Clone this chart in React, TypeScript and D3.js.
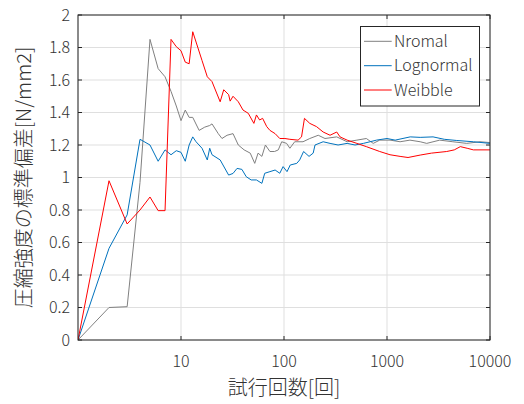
import React from "react";
import * as d3 from "d3";

// ---- data (running std. dev. vs. number of trials) ----
const nromalN = [1, 2, 3, 4, 5, 6, 7, 8, 9, 10, 11, 12, 13, 15, 17, 19, 20, 23, 25, 28, 32, 36, 41, 47, 52, 56, 61, 66, 73, 81, 88, 95, 106, 114, 127, 153, 178, 215, 250, 325, 410, 510, 630, 735, 850, 1070, 1340, 1670, 2100, 2430, 3250, 4360, 5940, 8000, 10000];
const nromalY = [0, 0.2, 0.205, 0.97, 1.85, 1.67, 1.62, 1.53, 1.44, 1.35, 1.415, 1.37, 1.37, 1.29, 1.31, 1.32, 1.33, 1.27, 1.24, 1.26, 1.27, 1.2, 1.17, 1.15, 1.087, 1.15, 1.13, 1.2, 1.16, 1.16, 1.17, 1.22, 1.21, 1.18, 1.22, 1.22, 1.24, 1.26, 1.24, 1.25, 1.22, 1.23, 1.24, 1.21, 1.23, 1.23, 1.22, 1.23, 1.22, 1.21, 1.23, 1.22, 1.21, 1.22, 1.215];

const lognormalN = [1, 2, 3, 4, 5, 6, 7, 8, 9, 10, 11, 12, 13, 14, 16, 18, 19, 20, 24, 29, 32, 35, 39, 43, 48, 54, 61, 65, 73, 82, 91, 98, 107, 115, 133, 142, 155, 175, 192, 200, 240, 280, 335, 410, 490, 590, 685, 790, 1000, 1200, 1680, 2100, 2800, 3600, 4700, 6900, 10000];
const lognormalY = [0, 0.564, 0.77, 1.235, 1.2, 1.1, 1.17, 1.14, 1.165, 1.155, 1.1, 1.2, 1.25, 1.22, 1.18, 1.108, 1.18, 1.14, 1.108, 1.015, 1.025, 1.056, 1.05, 1.005, 0.985, 0.985, 0.964, 1.026, 1.036, 1.046, 1.026, 1.067, 1.036, 1.077, 1.087, 1.108, 1.16, 1.13, 1.15, 1.2, 1.22, 1.21, 1.2, 1.21, 1.2, 1.21, 1.22, 1.23, 1.24, 1.23, 1.25, 1.247, 1.25, 1.235, 1.228, 1.22, 1.21];

const weibbleN = [1, 2, 3, 4, 5, 6, 7, 8, 9, 10, 11, 12, 13, 16, 18, 20, 24, 26, 29, 30, 32, 36, 40, 45, 51, 54, 58, 62, 68, 73, 82, 91, 102, 114, 137, 148, 158, 178, 207, 240, 280, 325, 350, 410, 510, 630, 850, 1070, 1340, 1600, 2100, 2700, 3800, 4500, 5150, 6000, 6900, 10000];
const weibbleY = [0, 0.98, 0.714, 0.8, 0.88, 0.796, 0.796, 1.85, 1.805, 1.78, 1.71, 1.7, 1.897, 1.72, 1.62, 1.59, 1.466, 1.54, 1.51, 1.47, 1.5, 1.466, 1.415, 1.395, 1.333, 1.385, 1.354, 1.364, 1.313, 1.29, 1.27, 1.24, 1.24, 1.235, 1.23, 1.25, 1.364, 1.333, 1.313, 1.28, 1.26, 1.28, 1.25, 1.23, 1.21, 1.19, 1.16, 1.14, 1.13, 1.123, 1.138, 1.15, 1.16, 1.17, 1.19, 1.18, 1.17, 1.17];

const seriesNames = ["Nromal", "Lognormal", "Weibble"];
const seriesColors = ["#808080", "#0072BD", "#FF0000"];
const xTicks = [10, 100, 1000, 10000];
const xGrid = [1, 10, 100, 1000, 10000];
const yTicks = [0, 0.2, 0.4, 0.6, 0.8, 1, 1.2, 1.4, 1.6, 1.8, 2];
const xTitle = "試行回数[回]";
const yTitle = "圧縮強度の標準偏差[N/mm2]";

const FONT = "'Noto Sans CJK JP', 'Noto Sans', sans-serif";
const INK = "#262626";
const TXT = "#333333";

export default function App() {
  const W = 524, H = 404;
  const L = 78, R = 490, T = 15, B = 340;
  const x = d3.scaleLog().domain([1, 10000]).range([L, R]);
  const y = d3.scaleLinear().domain([0, 2]).range([B, T]);
  const line = d3.line<[number, number]>().x((d) => x(d[0])).y((d) => y(d[1]));
  const series = [
    nromalN.map((n, i) => [n, nromalY[i]] as [number, number]),
    lognormalN.map((n, i) => [n, lognormalY[i]] as [number, number]),
    weibbleN.map((n, i) => [n, weibbleY[i]] as [number, number]),
  ];
  const tl = 4;
  const legX = 360.5, legY = 26.5, legW = 119, legH = 79.5;
  const rowY = [41.3, 65.7, 90];
  return (
    <svg width={W} height={H} style={{ position: "absolute", left: 0, top: 0, background: "#fff" }} fontFamily={FONT} fontWeight={300}>
      <rect x={0} y={0} width={W} height={H} fill="#fff" />
      {/* grid */}
      {yTicks.map((t) => (
        <line key={"gy" + t} x1={L} x2={R} y1={y(t)} y2={y(t)} stroke="#dfdfdf" strokeWidth={1} />
      ))}
      {xGrid.map((t) => (
        <line key={"gx" + t} x1={x(t)} x2={x(t)} y1={T} y2={B} stroke="#dfdfdf" strokeWidth={1} />
      ))}
      {/* data */}
      <g clipPath="url(#clip)">
        {series.map((s, i) => (
          <path key={i} d={line(s) || ""} fill="none" stroke={seriesColors[i]} strokeWidth={1} strokeLinejoin="round" />
        ))}
      </g>
      <defs>
        <clipPath id="clip">
          <rect x={L} y={T - 1} width={R - L} height={B - T + 2} />
        </clipPath>
      </defs>
      {/* axes box */}
      <rect x={L} y={T} width={R - L} height={B - T} fill="none" stroke={INK} strokeWidth={1} />
      {/* ticks */}
      {yTicks.map((t) => (
        <g key={"ty" + t}>
          <line x1={L} x2={L + tl} y1={y(t)} y2={y(t)} stroke={INK} />
          <line x1={R} x2={R - tl} y1={y(t)} y2={y(t)} stroke={INK} />
          <text x={L - 8} y={y(t)} dy="0.35em" textAnchor="end" fontSize={16} fill={TXT}>
            {d3.format("")(t)}
          </text>
        </g>
      ))}
      {xTicks.map((t) => (
        <g key={"tx" + t}>
          <line x1={x(t)} x2={x(t)} y1={B} y2={B - tl} stroke={INK} />
          <line x1={x(t)} x2={x(t)} y1={T} y2={T + tl} stroke={INK} />
          <text x={x(t)} y={366.5} textAnchor="middle" fontSize={16} fill={TXT}>
            {String(t)}
          </text>
        </g>
      ))}
      {/* titles */}
      <text x={(L + R) / 2} y={395} textAnchor="middle" fontSize={20} fill={TXT}>
        {xTitle}
      </text>
      <text transform={`translate(31,${(T + B) / 2}) rotate(-90)`} textAnchor="middle" fontSize={20} fill={TXT}>
        {yTitle}
      </text>
      {/* legend */}
      <rect x={legX} y={legY} width={legW} height={legH} fill="#fff" stroke={INK} strokeWidth={1} />
      {seriesNames.map((nm, i) => (
        <g key={nm}>
          <line x1={364} x2={391.7} y1={rowY[i]} y2={rowY[i]} stroke={seriesColors[i]} strokeWidth={1} />
          <text x={394} y={rowY[i]} dy="0.35em" fontSize={16} fill={TXT}>
            {nm}
          </text>
        </g>
      ))}
    </svg>
  );
}
